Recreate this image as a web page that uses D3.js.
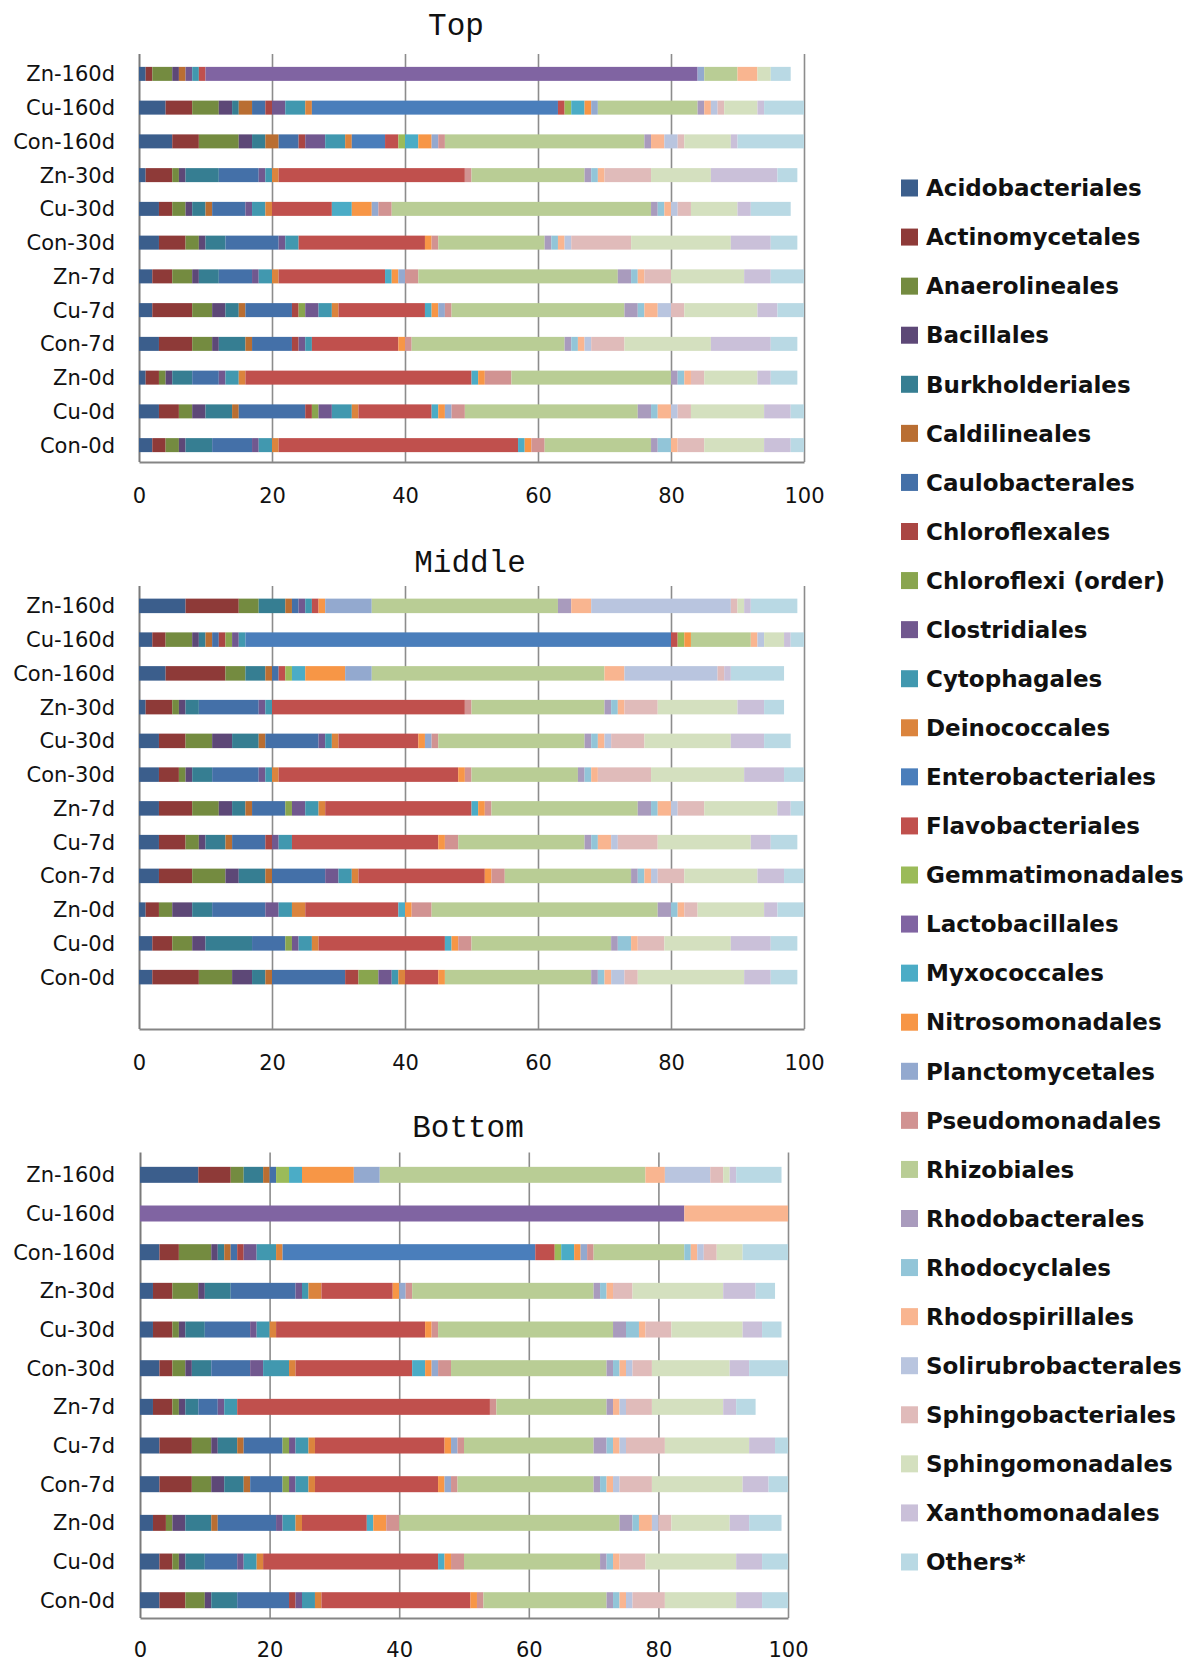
<!DOCTYPE html>
<html>
<head>
<meta charset="utf-8">
<script src="https://cdn.jsdelivr.net/npm/d3@7"></script>
<style>
  html, body { margin: 0; padding: 0; background: #ffffff; }
  svg { display: block; }
  .rowlab { font-family: "DejaVu Sans", Verdana, sans-serif; font-size: 21px; fill: #111; }
  .ticklab { font-family: "DejaVu Sans", Verdana, sans-serif; font-size: 21px; fill: #111; }
  .ptitle { font-family: "Courier New", "Liberation Mono", monospace; font-size: 31px; fill: #111; }
  .leglab { font-family: "DejaVu Sans", Verdana, sans-serif; font-size: 23px; font-weight: bold; fill: #111; }
</style>
</head>
<body>
<svg id="chart" width="1186" height="1666"></svg>
<script>
// Bacterial orders (relative abundance, %)
const orders = [
  "Acidobacteriales", "Actinomycetales", "Anaerolineales", "Bacillales",
  "Burkholderiales", "Caldilineales", "Caulobacterales", "Chloroflexales",
  "Chloroflexi (order)", "Clostridiales", "Cytophagales", "Deinococcales",
  "Enterobacteriales", "Flavobacteriales", "Gemmatimonadales", "Lactobacillales",
  "Myxococcales", "Nitrosomonadales", "Planctomycetales", "Pseudomonadales",
  "Rhizobiales", "Rhodobacterales", "Rhodocyclales", "Rhodospirillales",
  "Solirubrobacterales", "Sphingobacteriales", "Sphingomonadales",
  "Xanthomonadales", "Others*"
];

const orderColors = [
  "#3b5e8c", "#8e3a38", "#748b40", "#5d4877", "#367e92", "#b96e32",
  "#4470a8", "#aa4643", "#89a54e", "#71588f", "#4198af", "#db843d",
  "#4a7ebb", "#c0504d", "#9bbb59", "#8064a2", "#4bacc6", "#f79646",
  "#93a9cf", "#d19392", "#b9cd95", "#a99bbd", "#92c5d8", "#f9b590",
  "#b9c5df", "#e0bbba", "#d4e0bf", "#cac0d9", "#b9d9e4"
];

const samples = ["Zn-160d", "Cu-160d", "Con-160d", "Zn-30d", "Cu-30d", "Con-30d",
                 "Zn-7d", "Cu-7d", "Con-7d", "Zn-0d", "Cu-0d", "Con-0d"];

const tickValues = [0, 20, 40, 60, 80, 100];

// One row per sample, one value per order (same order as `orders`)
const topValues = [
  [1,1,3,1,0,1,0,0,0,1,1,0,0,1,0,74,0,0,1,0,5,0,0,3,0,0,2,0,3],
  [4,4,4,2,1,2,2,1,0,2,3,1,37,1,1,0,2,1,1,0,15,1,0,1,1,1,5,1,6],
  [5,4,6,2,2,2,3,1,0,3,3,1,5,2,1,0,2,2,1,1,30,1,0,2,2,1,7,1,10],
  [1,4,1,1,5,0,6,0,0,1,1,1,0,28,0,0,0,0,0,1,17,1,1,1,0,7,9,10,3],
  [3,2,2,1,2,1,5,0,0,1,2,1,0,9,0,0,3,3,1,2,39,1,1,1,1,2,7,2,6],
  [3,4,2,1,3,0,8,0,0,1,2,0,0,19,0,0,0,1,0,1,16,1,1,1,1,9,15,6,4],
  [2,3,3,1,3,0,5,0,0,1,2,1,0,16,0,0,1,1,1,2,30,2,1,1,0,4,11,4,5],
  [2,6,3,2,2,1,7,1,1,2,2,1,0,13,0,0,1,1,1,1,26,2,1,2,2,2,11,3,4],
  [3,5,3,1,4,1,6,1,0,1,1,0,0,13,0,0,0,1,0,1,23,1,1,1,1,5,13,9,4],
  [1,2,1,1,3,0,4,0,0,1,2,1,0,34,0,0,1,1,0,4,24,1,1,1,0,2,8,2,4],
  [3,3,2,2,4,1,10,1,1,2,3,1,0,11,0,0,1,1,1,2,26,2,1,2,1,2,11,4,2],
  [2,2,2,1,4,0,6,0,0,1,2,1,0,36,0,0,1,1,0,2,16,1,2,1,0,4,9,4,2]
];

const middleValues = [
  [7,8,3,0,4,1,1,0,0,1,1,0,0,1,0,0,0,1,7,0,28,2,0,3,21,1,1,1,7],
  [2,2,4,1,1,1,1,1,1,1,1,0,64,1,1,0,0,1,0,0,9,0,0,1,1,0,3,1,2],
  [4,9,3,0,3,1,1,0,0,0,0,0,0,1,1,0,2,6,4,0,35,0,0,3,14,1,0,1,8],
  [1,4,1,1,2,0,9,0,0,1,1,0,0,29,0,0,0,0,0,1,20,1,1,1,0,5,12,4,3],
  [3,4,4,3,4,1,8,0,0,1,1,1,0,12,0,0,0,1,1,1,22,1,1,1,1,5,13,5,4],
  [3,3,1,1,3,0,7,0,0,1,1,1,0,27,0,0,0,1,0,1,16,1,1,1,0,8,14,6,3],
  [3,5,4,2,2,1,5,0,1,2,2,1,0,22,0,0,1,1,0,1,22,2,1,2,1,4,11,2,2],
  [3,4,2,1,3,1,5,1,0,1,2,0,0,22,0,0,0,1,0,2,19,1,1,2,1,6,14,3,4],
  [3,5,5,2,4,1,8,0,0,2,2,1,0,19,0,0,0,1,0,2,19,1,1,1,1,4,11,4,3],
  [1,2,2,3,3,0,8,0,0,2,2,2,0,14,0,0,1,1,0,3,34,2,1,1,0,2,10,2,4],
  [2,3,3,2,7,0,5,0,1,1,2,1,0,19,0,0,1,1,0,2,21,1,2,1,0,4,10,6,4],
  [2,7,5,3,2,1,11,2,3,2,1,1,0,5,0,0,0,1,0,0,22,1,1,1,2,2,16,4,4]
];

const bottomValues = [
  [9,5,2,0,3,1,1,0,0,0,0,0,0,0,2,0,2,8,4,0,41,0,0,3,7,2,1,1,7],
  [0,0,0,0,0,0,0,0,0,0,0,0,0,0,0,84,0,0,0,0,0,0,0,16,0,0,0,0,0],
  [3,3,5,1,1,1,1,1,0,2,3,1,39,3,1,0,2,1,1,1,14,0,1,1,1,2,4,0,7],
  [2,3,4,1,4,0,10,0,0,1,1,2,0,11,0,0,0,1,1,1,28,1,1,1,0,3,14,5,3],
  [2,3,1,1,3,0,7,0,0,1,2,1,0,23,0,0,0,1,0,1,27,2,2,1,0,4,11,3,3],
  [3,2,2,1,3,0,6,0,0,2,4,1,0,18,0,0,2,1,1,2,24,1,1,1,1,3,12,3,6],
  [2,3,1,1,2,0,3,0,0,1,2,0,0,39,0,0,0,0,0,1,17,1,0,1,1,4,11,2,3],
  [3,5,3,1,3,1,6,0,1,1,2,1,0,20,0,0,0,1,1,1,20,2,1,1,1,6,13,4,2],
  [3,5,3,2,3,1,5,0,1,1,2,1,0,19,0,0,0,1,1,1,21,1,1,1,1,5,14,4,3],
  [2,2,1,2,4,1,9,0,0,1,2,1,0,10,0,0,1,2,0,2,34,2,1,2,1,2,9,3,5],
  [3,2,1,1,3,0,5,0,0,1,2,1,0,27,0,0,1,1,0,2,21,1,1,1,0,4,14,4,4],
  [3,4,3,1,4,0,8,1,0,1,2,1,0,23,0,0,0,1,0,1,19,1,1,1,1,5,11,4,4]
];

// Panel geometry
const panels = [
  { title: "Top",    values: topValues,    titleX: 456, titleY: 24,
    x0: 139, x1: 804, top: 57,   step: 33.75, barH: 14,   axisY: 462,  labelOff: 34 },
  { title: "Middle", values: middleValues, titleX: 470, titleY: 561,
    x0: 139, x1: 804, top: 589,  step: 33.75, barH: 14.5, axisY: 1029, labelOff: 34 },
  { title: "Bottom", values: bottomValues, titleX: 468, titleY: 1126,
    x0: 140, x1: 788, top: 1155.5, step: 38.67, barH: 16, axisY: 1618, labelOff: 32 }
];

const svg = d3.select("#chart");
const color = d3.scaleOrdinal().domain(orders).range(orderColors);
const stack = d3.stack().keys(orders);

panels.forEach(p => {
  const g = svg.append("g");

  const x = d3.scaleLinear().domain([0, 100]).range([p.x0, p.x1]);
  const y = d3.scalePoint().domain(samples)
    .range([p.top + p.step / 2, p.top + p.step * (samples.length - 0.5)]);

  // gridlines + x axis
  const axis = d3.axisBottom(x)
    .tickValues(tickValues)
    .tickSize(-(p.axisY - p.top + 3))
    .tickSizeOuter(0)
    .tickFormat(d3.format("d"));

  const ax = g.append("g")
    .attr("transform", `translate(0,${p.axisY})`)
    .call(axis);
  ax.select(".domain").attr("stroke", "#858585").attr("stroke-width", 2);
  ax.selectAll(".tick line")
    .attr("stroke", d => d === 0 ? "#7a7a7a" : "#8c8c8c")
    .attr("stroke-width", d => d === 0 ? 2 : 1.6);
  ax.selectAll(".tick text")
    .attr("class", "ticklab")
    .attr("y", p.labelOff)
    .attr("dy", "0.35em")
    .attr("font-size", null)
    .attr("font-family", null)
    .attr("fill", null);
  ax.attr("font-size", null).attr("font-family", null);

  // stacked bars
  const rows = samples.map((s, i) => {
    const o = { sample: s };
    orders.forEach((k, j) => { o[k] = p.values[i][j]; });
    return o;
  });
  const series = stack(rows);

  g.append("g").selectAll("g")
    .data(series)
    .join("g")
      .attr("fill", d => color(d.key))
    .selectAll("rect")
    .data(d => d.filter(v => v[1] - v[0] > 0))
    .join("rect")
      .attr("x", d => x(d[0]))
      .attr("width", d => x(d[1]) - x(d[0]))
      .attr("y", d => y(d.data.sample) - p.barH / 2)
      .attr("height", p.barH);

  // sample labels
  g.append("g").selectAll("text")
    .data(samples)
    .join("text")
      .attr("class", "rowlab")
      .attr("x", 115)
      .attr("y", d => y(d))
      .attr("dy", "0.36em")
      .attr("text-anchor", "end")
      .text(d => d);

  // panel title
  g.append("text")
    .attr("class", "ptitle")
    .attr("x", p.titleX)
    .attr("y", p.titleY)
    .attr("dy", "0.35em")
    .attr("text-anchor", "middle")
    .text(p.title);
});

// legend
const ly = d3.scalePoint().domain(orders).range([188, 1562]);
const leg = svg.append("g").selectAll("g")
  .data(orders)
  .join("g")
    .attr("transform", d => `translate(901,${ly(d)})`);
leg.append("rect")
  .attr("x", 0).attr("y", -8.5)
  .attr("width", 17).attr("height", 17)
  .attr("fill", d => color(d));
leg.append("text")
  .attr("class", "leglab")
  .attr("x", 25)
  .attr("y", 0)
  .attr("dy", "0.36em")
  .text(d => d);
</script>
</body>
</html>
